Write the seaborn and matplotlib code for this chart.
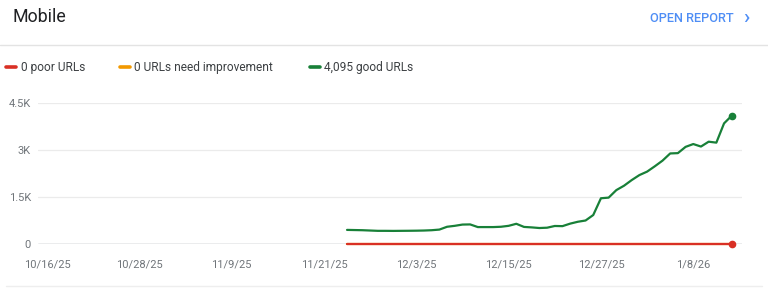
import matplotlib
matplotlib.use("Agg")
import matplotlib.pyplot as plt
import matplotlib.dates as mdates
import seaborn as sns
import pandas as pd
import numpy as np

# ---- data ----
start_date = "2025-11-24"
good_urls = [450, 445, 440, 430, 420, 420, 418, 420, 422, 425,
             430, 440, 460, 550, 580, 620, 625, 540, 540, 540,
             550, 580, 645, 545, 530, 510, 520, 575, 570, 650,
             710, 750, 925, 1460, 1480, 1720, 1860, 2040, 2200, 2310,
             2480, 2660, 2890, 2900, 3100, 3190, 3110, 3265, 3235, 3850,
             4095]
poor_urls = [0] * len(good_urls)
needs_improvement_urls = [0] * len(good_urls)
x_tick_dates = ["2025-10-16", "2025-10-28", "2025-11-09", "2025-11-21",
                "2025-12-03", "2025-12-15", "2025-12-27", "2026-01-08"]
x_tick_labels = ["10/16/25", "10/28/25", "11/9/25", "11/21/25",
                 "12/3/25", "12/15/25", "12/27/25", "1/8/26"]
y_ticks = [0, 1500, 3000, 4500]
y_tick_labels = ["0", "1.5K", "3K", "4.5K"]
legend_labels = ["0 poor URLs", "0 URLs need improvement", "4,095 good URLs"]
title = "Mobile"
link_text = "OPEN REPORT"

RED = "#d93025"
ORANGE = "#f29900"
GREEN = "#188038"
GRAY_TXT = "#70757a"

sns.set_theme(style="white")
plt.rcParams["font.family"] = ["Roboto", "DejaVu Sans"]

dates = pd.date_range(start_date, periods=len(good_urls), freq="D")
df = pd.DataFrame({"date": dates, "good": good_urls,
                   "poor": poor_urls, "ni": needs_improvement_urls})

fig = plt.figure(figsize=(7.68, 2.89), dpi=100)
ax = fig.add_axes([38 / 768, 45 / 289, 704 / 768, 141 / 289])

for yv in y_ticks[1:]:
    ax.axhline(yv, color="#ebebeb", lw=0.9, zorder=0)
ax.axhline(0, color="#9aa0a6", lw=1.0, zorder=1)

sns.lineplot(data=df, x="date", y="ni", color=ORANGE, lw=1.6, ax=ax, zorder=2, clip_on=False)
sns.lineplot(data=df, x="date", y="poor", color=RED, lw=1.6, ax=ax, zorder=3, clip_on=False)
sns.lineplot(data=df, x="date", y="good", color=GREEN, lw=1.6, ax=ax, zorder=4, clip_on=False)
ax.plot([dates[-1]], [poor_urls[-1]], "o", color=RED, ms=4.5, zorder=5, clip_on=False)
ax.plot([dates[-1]], [good_urls[-1]], "o", color=GREEN, ms=4.5, zorder=5, clip_on=False)

xmin = pd.Timestamp("2025-10-14 20:00")
xmax = pd.Timestamp("2026-01-14 08:00")
ax.set_xlim(xmin, xmax)
ax.set_ylim(0, 4500)
ax.set_xticks(pd.to_datetime(x_tick_dates))
ax.set_xticklabels(x_tick_labels)
ax.set_yticks(y_ticks)
ax.set_yticklabels(y_tick_labels)
ax.tick_params(axis="both", length=0, labelsize=8, colors=GRAY_TXT)
ax.tick_params(axis="y", pad=5)
ax.tick_params(axis="x", pad=11)
ax.set_xlabel("")
ax.set_ylabel("")
for s in ax.spines.values():
    s.set_visible(False)
ax.patch.set_alpha(0)

# header
fig.text(13 / 768, 1 - 17 / 289, title, fontsize=12.8, color="#202124",
         va="center", ha="left")
fig.text(734 / 768, 1 - 18 / 289, link_text, fontsize=9.2, color="#4f8ef5",
         va="center", ha="right", fontweight="medium")
fig.text(749 / 768, 1 - 17.5 / 289, "\u203a", fontsize=15, color="#4f8ef5",
         va="center", ha="right", fontweight="medium")
fig.add_artist(plt.Line2D([0, 1], [1 - 45 / 289] * 2, color="#e3e3e3", lw=1,
                          transform=fig.transFigure))

# legend
leg_y = 1 - 67 / 289
items = [(6, 21, RED, legend_labels[0]),
         (120, 134, ORANGE, legend_labels[1]),
         (310, 324, GREEN, legend_labels[2])]
for x0, xt, col, lab in items:
    fig.add_artist(plt.Line2D([x0 / 768, (x0 + 10) / 768], [leg_y, leg_y],
                              color=col, lw=2.6, solid_capstyle="round",
                              transform=fig.transFigure))
    fig.text(xt / 768, leg_y, lab, fontsize=8.6, color="#3c4043",
             va="center", ha="left")

# faint card bottom edge
fig.add_artist(plt.Line2D([6 / 768, 762 / 768], [3 / 289, 3 / 289],
                          color="#eeeeee", lw=1, transform=fig.transFigure))

fig.savefig("out.png", dpi=100)
